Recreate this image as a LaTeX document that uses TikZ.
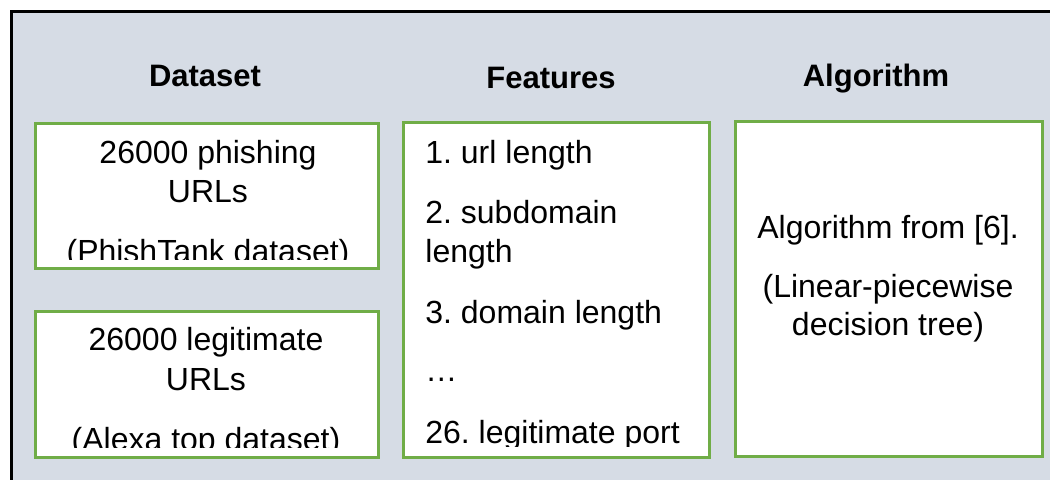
\documentclass[tikz,border=0pt]{standalone}
\usepackage{fontspec}
\setmainfont{Liberation Sans}
\usepackage{xcolor}
\definecolor{panel}{HTML}{D6DCE5}
\definecolor{boxgreen}{HTML}{70AD47}
\frenchspacing

\begin{document}
\begin{tikzpicture}[x=0.5pt,y=-0.5pt,
  box/.style={draw=boxgreen,line width=1.5pt,fill=white},
  txt/.style={font=\fontsize{16}{19}\selectfont,inner sep=0,anchor=base},
  head/.style={txt,font=\fontsize{15.5}{19}\selectfont\bfseries}]
\useasboundingbox (0,0) rectangle (1050,479);
\fill[panel] (11,11) rectangle (1070,495);
\draw[line width=1.5pt] (1070,11) -- (11,11) -- (11,495);
% column headers
\node[head] (hdata) at (205,86) {Dataset};
\node[head] (hfeat) at (551,88) {Features};
\node[head] (halgo) at (876,86) {Algorithm};
% boxes
\draw[box] (35,123) rectangle (378,268);
\draw[box] (35,311) rectangle (378,457);
\draw[box] (403,122) rectangle (709,457);
\draw[box] (735,121) rectangle (1042,456);
% dataset texts
\begin{scope}
\clip (37,125) rectangle (376,259);
\node[txt] (ph1) at (208,163) {26000 phishing};
\node[txt] (ph2) at (208,202) {URLs};
\node[txt] (ph3) at (208,262) {(PhishTank dataset)};
\end{scope}
\begin{scope}
\clip (37,313) rectangle (376,447);
\node[txt] (lg1) at (206,350) {26000 legitimate};
\node[txt] (lg2) at (206,390) {URLs};
\node[txt] (lg3) at (206,450) {(Alexa top dataset)};
\end{scope}
% feature list
\begin{scope}
\clip (405,124) rectangle (707,446);
\node[txt,anchor=base west] (f1) at (425,163) {1. url length};
\node[txt,anchor=base west] (f2) at (425,223) {2. subdomain};
\node[txt,anchor=base west] (f2b) at (425,262) {length};
\node[txt,anchor=base west] (f3) at (425,323) {3. domain length};
\node[txt,anchor=base west] (fdots) at (425,381) {…};
\node[txt,anchor=base west] (f26) at (425,443) {26. legitimate port};
\end{scope}
% algorithm
\node[txt] (al1) at (888,238) {Algorithm from [6].};
\node[txt] (al2) at (888,297) {(Linear-piecewise};
\node[txt] (al3) at (888,335) {decision tree)};
\end{tikzpicture}
\end{document}
